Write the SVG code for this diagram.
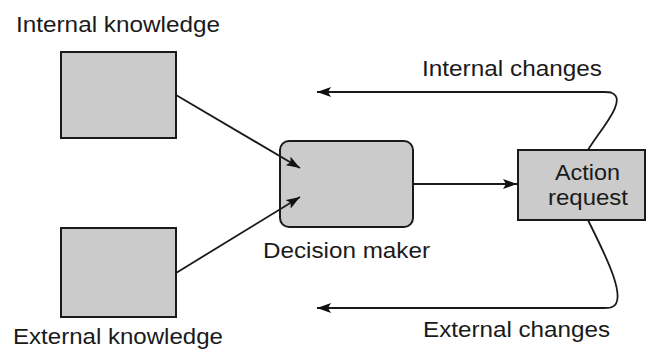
<svg xmlns="http://www.w3.org/2000/svg" width="647" height="349" viewBox="0 0 647 349">
<defs>
<marker id="ah" markerWidth="14" markerHeight="10" refX="14" refY="5" orient="auto" markerUnits="userSpaceOnUse">
<path d="M0,0 L14,5 L0,10 L3,5 Z" fill="#111"/>
</marker>
</defs>
<style>
.box{fill:#cbcbcb;stroke:#1a1a1a;stroke-width:2}
.t{font-family:"Liberation Sans",Arial,sans-serif;font-size:22px;fill:#1a1a1a}
.c{fill:none;stroke:#1a1a1a;stroke-width:1.8}
</style>
<rect width="647" height="349" fill="#ffffff"/>
<g id="internal-knowledge">
<rect class="box" x="61" y="52" width="115" height="86"/>
<text class="t" x="16" y="32" textLength="204" lengthAdjust="spacingAndGlyphs">Internal knowledge</text>
</g>
<g id="external-knowledge">
<rect class="box" x="61" y="228" width="115" height="89"/>
<text class="t" x="13" y="344" textLength="210" lengthAdjust="spacingAndGlyphs">External knowledge</text>
</g>
<g id="decision-maker">
<rect class="box" x="280" y="141" width="133" height="86" rx="9"/>
<text class="t" x="263" y="258" textLength="167" lengthAdjust="spacingAndGlyphs">Decision maker</text>
</g>
<g id="action-request">
<rect class="box" x="518" y="150" width="127" height="70"/>
<text class="t" x="555" y="180" textLength="65" lengthAdjust="spacingAndGlyphs">Action</text>
<text class="t" x="548" y="205" textLength="80" lengthAdjust="spacingAndGlyphs">request</text>
</g>
<g id="labels">
<text class="t" x="422" y="76" textLength="180" lengthAdjust="spacingAndGlyphs">Internal changes</text>
<text class="t" x="423" y="337" textLength="187" lengthAdjust="spacingAndGlyphs">External changes</text>
</g>
<g id="connectors">
<path class="c" d="M176,95 L300,168" marker-end="url(#ah)"/>
<path class="c" d="M176,273 L300,197" marker-end="url(#ah)"/>
<path class="c" d="M413,184 L517,184" marker-end="url(#ah)"/>
<path class="c" d="M588,150 C600,130 628,100 612,93 C610,92 608,92 604,92 L317,92" marker-end="url(#ah)"/>
<path class="c" d="M588,220 C600,245 630,300 612,307 C610,308 608,308 604,308 L317,308" marker-end="url(#ah)"/>
</g>
</svg>
